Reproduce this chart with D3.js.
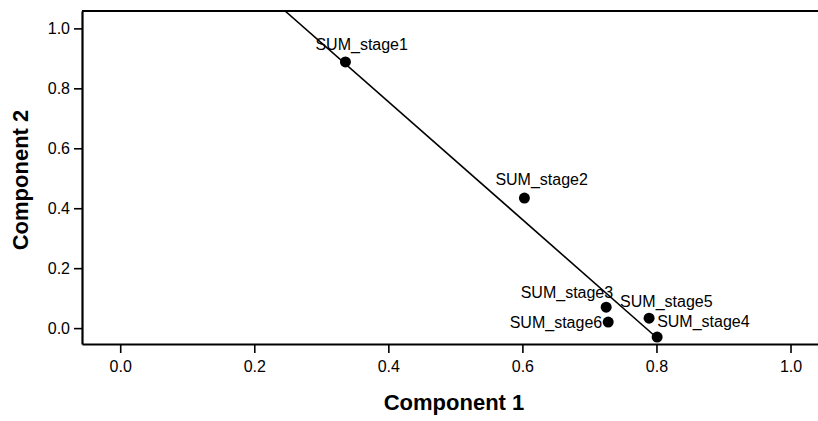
<!DOCTYPE html>
<html>
<head>
<meta charset="utf-8">
<script src="https://cdn.jsdelivr.net/npm/d3@7"></script>
<style>
  body { margin: 0; background: #fff; }
  svg { display: block; }
  text { font-family: "Liberation Sans", Arial, sans-serif; fill: #000; }
</style>
</head>
<body>
<svg width="818" height="421"></svg>
<script>
// loadings
const names = ['SUM_stage1', 'SUM_stage2', 'SUM_stage3', 'SUM_stage4', 'SUM_stage5', 'SUM_stage6']
const comp1 = [0.336, 0.603, 0.725, 0.801, 0.789, 0.728]
const comp2 = [0.888, 0.434, 0.070, -0.030, 0.033, 0.020]
const lineX = [0.246, 0.801]
const lineY = [1.058, -0.033]
const xTicks = [0.0, 0.2, 0.4, 0.6, 0.8, 1.0]
const yTicks = [0.0, 0.2, 0.4, 0.6, 0.8, 1.0]

// label nudges in px (anchor, dx, dy) - placed by hand like the original
const labelPos = [
  ['start', -30, -12],
  ['start', -29, -13],
  ['end', 7, -9],
  ['start', 0, -10],
  ['start', -29, -11],
  ['end', -6, 6]
]

const svg = d3.select('svg')
const width = +svg.attr('width')
const height = +svg.attr('height')
const margin = {top: 11, right: 0, bottom: 77, left: 82}
const innerWidth = width - margin.left - margin.right
const innerHeight = height - margin.top - margin.bottom

const xScale = d3.scaleLinear()
    .domain([-0.057, 1.041])
    .range([0, innerWidth])

const yScale = d3.scaleLinear()
    .domain([-0.053, 1.058])
    .range([innerHeight, 0])

const g = svg.append('g')
    .attr('transform', `translate(${margin.left}, ${margin.top})`)

svg.append('defs').append('clipPath').attr('id', 'plot')
  .append('rect').attr('width', innerWidth).attr('height', innerHeight)

const fmt = d3.format('.1f')

const xAxis = d3.axisBottom(xScale).tickValues(xTicks).tickFormat(fmt)
    .tickSize(9).tickPadding(8).tickSizeOuter(0)
const yAxis = d3.axisLeft(yScale).tickValues(yTicks).tickFormat(fmt)
    .tickSize(8).tickPadding(4).tickSizeOuter(0)

const xg = g.append('g').attr('transform', `translate(0, ${innerHeight})`).call(xAxis)
const yg = g.append('g').call(yAxis)
;[xg, yg].forEach(a => {
  a.select('.domain').attr('stroke', '#000').attr('stroke-width', 2.2)
  a.selectAll('.tick line').attr('stroke', '#000').attr('stroke-width', 1.6)
  a.selectAll('.tick text').attr('font-size', 16).attr('font-family', null)
})

// top frame line
g.append('line')
    .attr('x1', 0).attr('x2', innerWidth)
    .attr('y1', 0).attr('y2', 0)
    .attr('stroke', '#000').attr('stroke-width', 1.8)

// reference line
g.append('line')
    .attr('clip-path', 'url(#plot)')
    .attr('x1', xScale(lineX[0])).attr('y1', yScale(lineY[0]))
    .attr('x2', xScale(lineX[1])).attr('y2', yScale(lineY[1]))
    .attr('stroke', '#000').attr('stroke-width', 1.6)

const pts = names.map((n, i) => ({name: n, x: comp1[i], y: comp2[i], lp: labelPos[i]}))

g.selectAll('circle').data(pts)
  .enter().append('circle')
    .attr('cx', d => xScale(d.x))
    .attr('cy', d => yScale(d.y))
    .attr('r', 5.5)
    .attr('fill', '#000')

g.selectAll('.lbl').data(pts)
  .enter().append('text')
    .attr('class', 'lbl')
    .attr('x', d => xScale(d.x) + d.lp[1])
    .attr('y', d => yScale(d.y) + d.lp[2])
    .attr('text-anchor', d => d.lp[0])
    .attr('font-size', 16)
    .text(d => d.name)

// axis titles
svg.append('text')
    .attr('x', 454).attr('y', 410)
    .attr('text-anchor', 'middle')
    .attr('font-size', 22).attr('font-weight', 'bold')
    .text('Component 1')

svg.append('text')
    .attr('transform', 'translate(28, 180) rotate(-90)')
    .attr('text-anchor', 'middle')
    .attr('font-size', 22).attr('font-weight', 'bold')
    .text('Component 2')
</script>
</body>
</html>
